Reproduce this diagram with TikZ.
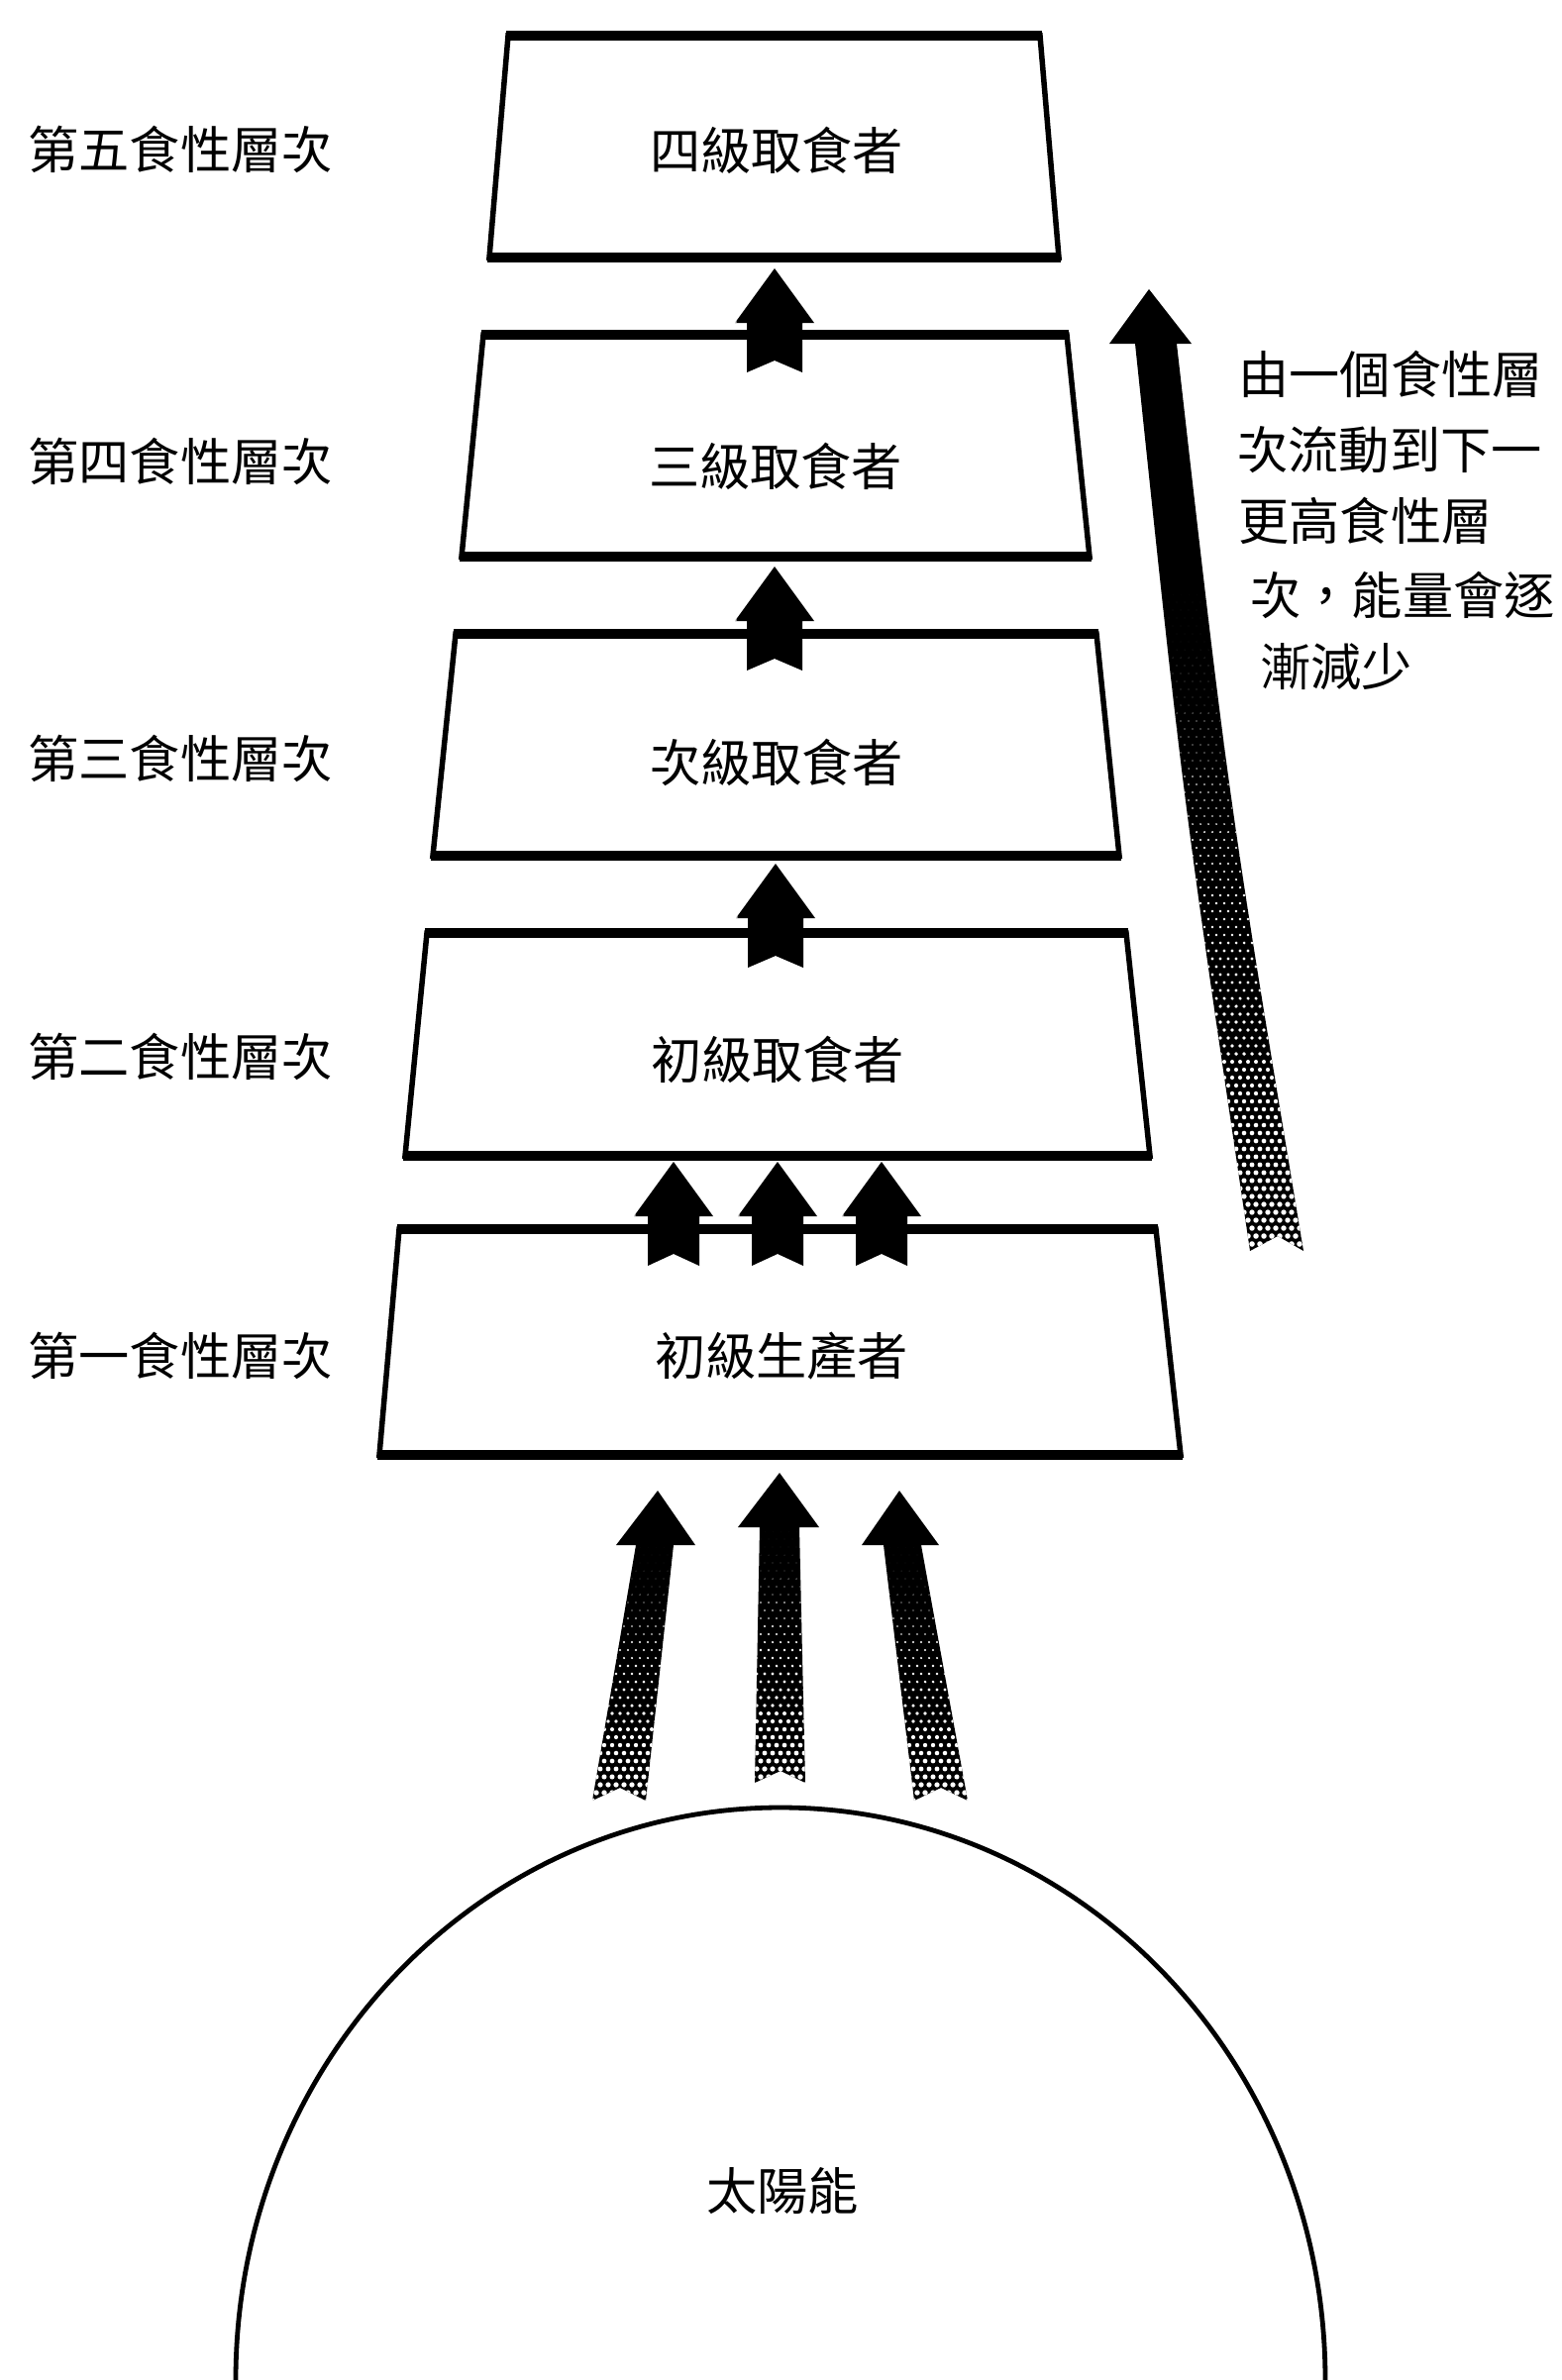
\documentclass[tikz,border=0pt]{standalone}
\usepackage{fontspec}
\setmainfont{Noto Sans CJK TC}
% halftone filled arrow: #1 path, #2 y start of dots, #3 y end, #4 x min, #5 x max, #6 r0, #7 rmax (px)
\newcommand{\htfill}[7]{%
  \fill #1;
  \begin{scope}
    \clip #1;
    \pgfmathtruncatemacro\htN{(#3-#2)/8}
    \pgfmathtruncatemacro\htM{(#5-#4)/8}
    \foreach \hk in {0,...,\htN}{
      \foreach \hj in {0,...,\htM}{
        \pgfmathsetmacro\hyy{#2+8*\hk}
        \pgfmathsetmacro\hxx{#4+8*\hj+4*mod(\hk,2)}
        \pgfmathsetmacro\hrr{#6+(#7-#6)*\hk/\htN}
        \fill[white] (\hxx,\hyy) circle[radius=\hrr*0.5pt];
      }
    }
  \end{scope}
}
% small arrow between boxes: #1 centre x, #2 tip y, #3 shaft half width
\newcommand{\smallarrow}[3]{%
  \htfill{(#1,#2) -- (#1+40,#2+55) -- (#1+#3,#2+55) -- (#1+#3,#2+105) -- (#1,#2+93) -- (#1-#3,#2+105) -- (#1-#3,#2+55) -- (#1-40,#2+55) -- cycle}{#2+14}{#2+108}{#1-44}{#1+44}{1.5}{2.9}%
}
\begin{document}
\begin{tikzpicture}[x=0.5pt,y=-0.5pt,
  side/.style={line width=2.75pt, line join=miter},
  hor/.style={line width=4.75pt, line cap=butt},
  txt/.style={font=\fontsize{25.6pt}{30pt}\selectfont, inner sep=0pt, anchor=base},
  note/.style={font=\fontsize{25.6pt}{30pt}\selectfont, inner sep=0pt, anchor=base west}]
\useasboundingbox[fill=white] (0,0) rectangle (1576,2403);

% trophic level boxes
\foreach \n/\tlx/\trx/\blx/\brx/\ty/\by in {5/513/1050/494/1069/36/260, 4/488/1077/466/1100/338/562, 3/460/1107/437/1130/640/864, 2/431/1137/409/1161/942/1167, 1/403/1167/383/1192/1241/1469}{
  \coordinate (box\n tl) at (\tlx,\ty);
  \coordinate (box\n tr) at (\trx,\ty);
  \coordinate (box\n bl) at (\blx,\by);
  \coordinate (box\n br) at (\brx,\by);
  \draw[side] (box\n tl) -- (box\n tr) -- (box\n br) -- (box\n bl) -- cycle;
  \draw[hor] (\tlx-2,\ty) -- (\trx+2,\ty);
  \draw[hor] (\blx-2,\by) -- (\brx+2,\by);
}

% box texts
\node[txt] (b5) at (784,171.5) {四級取食者};
\node[txt] (b4) at (783,490.5) {三級取食者};
\node[txt] (b3) at (784,789.5) {次級取食者};
\node[txt] (b2) at (785,1089.5) {初級取食者};
\node[txt] (b1) at (789,1388.5) {初級生產者};

% left labels
\node[txt] (l5) at (182,170.5) {第五食性層次};
\node[txt] (l4) at (182,485.5) {第四食性層次};
\node[txt] (l3) at (182,785.5) {第三食性層次};
\node[txt] (l2) at (182,1086.5) {第二食性層次};
\node[txt] (l1) at (182,1388.5) {第一食性層次};

% right note
\node[note] (n1) at (1250,397.5) {由一個食性層};
\node[note] (n2) at (1249,473.5) {次流動到下一};
\node[note] (n3) at (1250,545.5) {更高食性層};
\node[note] (n4) at (1262,620.5) {次，能量會逐};
\node[note] (n5) at (1272,692.5) {漸減少};

% small arrows between boxes
\smallarrow{782}{271}{28}
\smallarrow{782}{572}{28}
\smallarrow{783}{872}{28}
\smallarrow{680}{1173}{26}
\smallarrow{785}{1173}{26}
\smallarrow{890}{1173}{26}

% big arrow
\htfill{(1160,292) -- (1203,347) -- (1188,347) .. controls (1240,805) .. (1316,1263) -- (1290,1248) -- (1262,1263) .. controls (1194,805) .. (1146,347) -- (1120,347) -- cycle}{600}{1263}{1136}{1324}{0}{2.8}

% sun arrows
\htfill{(664,1505) -- (702,1560) -- (680,1560) -- (652,1818) -- (626,1805) -- (598,1818) -- (642,1560) -- (622,1560) -- cycle}{1562}{1820}{590}{706}{0}{2.8}
\htfill{(787,1487) -- (827,1542) -- (807,1542) -- (813,1800) -- (788,1788) -- (762,1800) -- (767,1542) -- (745,1542) -- cycle}{1546}{1802}{740}{830}{0}{2.8}
\htfill{(908,1505) -- (948,1560) -- (930,1560) -- (977,1818) -- (950,1805) -- (923,1818) -- (892,1560) -- (870,1560) -- cycle}{1562}{1820}{866}{982}{0}{2.8}

% sun
\draw[line width=2.4pt] (238,2403) arc[start angle=180, end angle=0, x radius=275pt, y radius=289pt];
\node[txt] (sun) at (790,2231.5) {太陽能};
\end{tikzpicture}
\end{document}
